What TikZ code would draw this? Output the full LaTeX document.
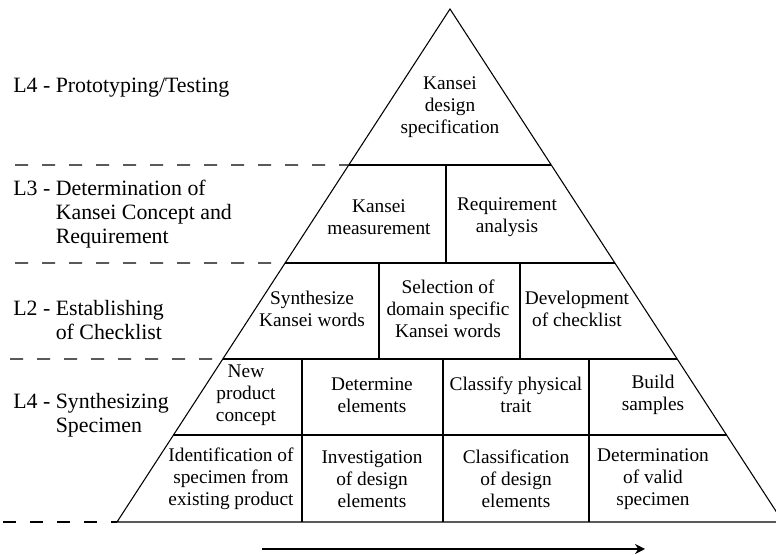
\documentclass[tikz,border=0pt]{standalone}
\usepackage{fontspec}
\setmainfont{Liberation Serif}
\usetikzlibrary{arrows.meta,calc}
\begin{document}
\begin{tikzpicture}[x=0.75pt,y=-0.75pt,
  edge/.style={line width=0.8pt,line join=miter},
  guide/.style={line width=0.8pt,dash pattern=on 9.75pt off 10.5pt},
  boxtext/.style={align=center,inner sep=0pt,font=\fontsize{14.5}{16.4}\selectfont},
  lbl/.style={align=left,anchor=west,inner sep=0pt,font=\fontsize{16.4}{18}\selectfont}]
\useasboundingbox (0,0) rectangle (776,555);
\begin{scope}
\clip (0,0) rectangle (776,555);
% pyramid outline
\coordinate (A) at (450,9);
\coordinate (BL) at (117,522);
\coordinate (BR) at (783,522);
\coordinate (L1) at ($(A)!0.3041!(BL)$);
\coordinate (R1) at ($(A)!0.3041!(BR)$);
\coordinate (L2) at ($(A)!0.4951!(BL)$);
\coordinate (R2) at ($(A)!0.4951!(BR)$);
\coordinate (L3) at ($(A)!0.6823!(BL)$);
\coordinate (R3) at ($(A)!0.6823!(BR)$);
\coordinate (L4) at ($(A)!0.8304!(BL)$);
\coordinate (R4) at ($(A)!0.8304!(BR)$);
\draw[edge] (BL) -- (A) -- (BR) -- cycle;
\draw[edge] (L1) -- (R1);
\draw[edge] (L2) -- (R2);
\draw[edge] (L3) -- (R3);
\draw[edge] (L4) -- (R4);
% vertical dividers
\coordinate (v1t) at (446,165); \coordinate (v1b) at (446,263);
\coordinate (v2t) at (379,263); \coordinate (v2b) at (379,359);
\coordinate (v3t) at (520,263); \coordinate (v3b) at (520,359);
\coordinate (v4t) at (302,359); \coordinate (v4b) at (302,522);
\coordinate (v5t) at (443,359); \coordinate (v5b) at (443,522);
\coordinate (v6t) at (589,359); \coordinate (v6b) at (589,522);
\draw[edge] (v1t) -- (v1b);
\draw[edge] (v2t) -- (v2b);
\draw[edge] (v3t) -- (v3b);
\draw[edge] (v4t) -- (v4b);
\draw[edge] (v5t) -- (v5b);
\draw[edge] (v6t) -- (v6b);
% dashed level separators
\coordinate (g1) at (15,165);
\coordinate (g2) at (15,263);
\coordinate (g3) at (10,359);
\coordinate (g4) at (3,522);
\draw[guide] (g1) -- (L1);
\draw[guide] (g2) -- (L2);
\draw[guide] (g3) -- (L3);
\draw[guide] (g4) -- (BL);
% arrow
\coordinate (as) at (262,549);
\coordinate (ae) at (645,549);
\draw[edge,-{Stealth[length=7.5pt,width=7.5pt]}] (as) -- (ae);
\end{scope}
% box texts
\node[boxtext] (kds) at (450,107) {Kansei\\design\\specification};
\node[boxtext] (km) at (379,217) {Kansei\\measurement};
\node[boxtext] (ra) at (507,217) {Requirement\\analysis};
\node[boxtext] (skw) at (312,309) {Synthesize\\Kansei words};
\node[boxtext] (sel) at (448,309) {Selection of\\domain specific\\Kansei words};
\node[boxtext] (dev) at (577,309) {Development\\of checklist};
\node[boxtext] (npc) at (246,395) {New\\product\\concept};
\node[boxtext] (de) at (372,395) {Determine\\elements};
\node[boxtext] (cpt) at (516,395) {Classify physical\\trait};
\node[boxtext] (bs) at (653,395) {Build\\samples};
\node[boxtext] (isp) at (231,479) {Identification of\\specimen from\\existing product};
\node[boxtext] (ide) at (372,479) {Investigation\\of design\\elements};
\node[boxtext] (cde) at (516,479) {Classification\\of design\\elements};
\node[boxtext] (dvs) at (653,479) {Determination\\of valid\\specimen};
% level labels
\node[lbl] (lab4) at (13,88) {L4 - Prototyping/Testing};
\node[lbl] (lab3) at (13,214) {L3 - Determination of\\\phantom{L3 - }Kansei Concept and\\\phantom{L3 - }Requirement};
\node[lbl] (lab2) at (13,320) {L2 - Establishing\\\phantom{L2 - }of Checklist};
\node[lbl] (lab1) at (13,415) {L4 - Synthesizing\\\phantom{L4 - }Specimen};
\end{tikzpicture}
\end{document}
